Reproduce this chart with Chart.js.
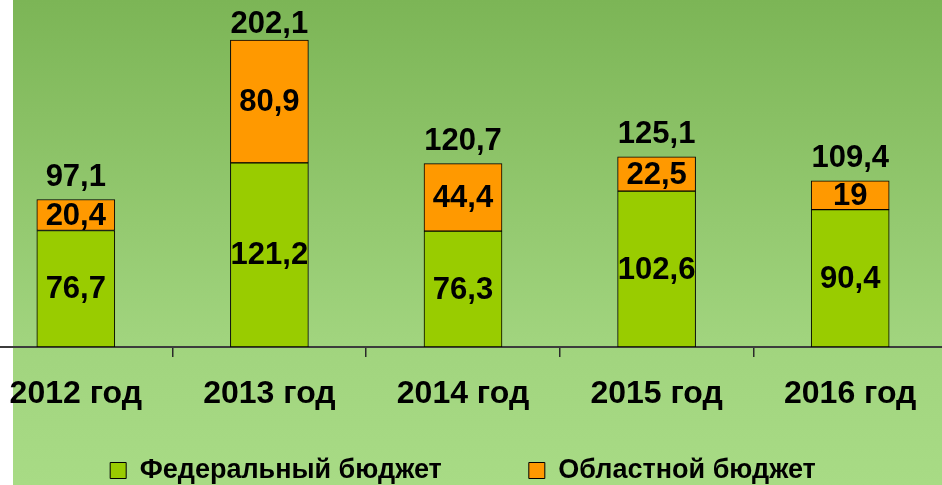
<!DOCTYPE html>
<html>
<head>
<meta charset="utf-8">
<script src="https://cdn.jsdelivr.net/npm/chart.js@4/dist/chart.umd.min.js"></script>
<style>
  html, body { margin: 0; padding: 0; background: #ffffff; }
  #wrap { position: relative; width: 942px; height: 485px; overflow: hidden; }
  #c { position: absolute; left: -21px; top: 0; }
</style>
</head>
<body>
<div id="wrap"><canvas id="c" width="968" height="494"></canvas></div>
<script>
const categories = ['2012 год', '2013 год', '2014 год', '2015 год', '2016 год'];
const federal = [76.7, 121.2, 76.3, 102.6, 90.4];
const regional = [20.4, 80.9, 44.4, 22.5, 19];
const totals = [97.1, 202.1, 120.7, 125.1, 109.4];
const seriesNames = ['Федеральный бюджет', 'Областной бюджет'];

const fmt = v => String(v).replace('.', ',');
const LABEL_FONT = "bold 31px 'Liberation Sans', Arial, sans-serif";

const bgPlugin = {
  id: 'bg',
  beforeDraw(chart) {
    const ctx = chart.ctx;
    ctx.save();
    ctx.fillStyle = '#ffffff';
    ctx.fillRect(0, 0, chart.width, chart.height);
    const g = ctx.createLinearGradient(0, 0, 0, 485);
    g.addColorStop(0, '#7cb556');
    g.addColorStop(0.7, '#a1d47e');
    g.addColorStop(1, '#a8db85');
    ctx.fillStyle = g;
    ctx.fillRect(34, 0, chart.width - 34, chart.height);
    ctx.restore();
  }
};

const labelPlugin = {
  id: 'vals',
  afterDatasetsDraw(chart) {
    const ctx = chart.ctx;
    ctx.save();
    ctx.font = LABEL_FONT;
    ctx.fillStyle = '#000000';
    ctx.textAlign = 'center';
    ctx.textBaseline = 'middle';
    chart.data.datasets.forEach((ds, di) => {
      const meta = chart.getDatasetMeta(di);
      meta.data.forEach((bar, i) => {
        const cy = (bar.y + bar.base) / 2;
        ctx.fillText(fmt(ds.data[i]), bar.x, cy + 1);
      });
    });
    const topMeta = chart.getDatasetMeta(chart.data.datasets.length - 1);
    topMeta.data.forEach((bar, i) => {
      const y = Math.max(bar.y - 22, 24);
      ctx.fillText(fmt(totals[i]), bar.x, y);
    });
    ctx.restore();
  }
};

new Chart(document.getElementById('c'), {
  type: 'bar',
  data: {
    labels: categories,
    datasets: [
      { label: seriesNames[0], data: federal, backgroundColor: '#99cc00', borderColor: '#000000', borderWidth: 1, borderSkipped: false, barThickness: 78 },
      { label: seriesNames[1], data: regional, backgroundColor: '#ff9900', borderColor: '#000000', borderWidth: 1, borderSkipped: false, barThickness: 78 }
    ]
  },
  options: {
    responsive: false,
    animation: false,
    devicePixelRatio: 1,
    layout: { padding: 0 },
    scales: {
      x: {
        stacked: true,
        afterFit(scale) { scale.height = 65; },
        border: { display: true, color: '#3c3c3c', width: 2 },
        grid: { display: true, offset: true, drawOnChartArea: false, drawTicks: true, tickLength: 10, color: '#2a2a2a', lineWidth: 1.5 },
        ticks: { color: '#000000', font: { family: "'Liberation Sans', Arial, sans-serif", size: 32, weight: 'bold' }, padding: 18, maxRotation: 0, autoSkip: false }
      },
      y: {
        stacked: true,
        display: false,
        min: 0,
        max: 228.4
      }
    },
    plugins: {
      legend: {
        position: 'bottom',
        labels: {
          boxWidth: 16,
          boxHeight: 16,
          padding: 45,
          color: '#000000',
          font: { family: "'Liberation Sans', Arial, sans-serif", size: 27, weight: 'bold' },
          generateLabels(chart) {
            const items = Chart.defaults.plugins.legend.labels.generateLabels(chart);
            items.forEach((it, i) => { if (i < items.length - 1) it.text = it.text + '\u2003  '; });
            return items;
          }
        }
      },
      tooltip: { enabled: false }
    }
  },
  plugins: [bgPlugin, labelPlugin]
});
</script>
</body>
</html>
